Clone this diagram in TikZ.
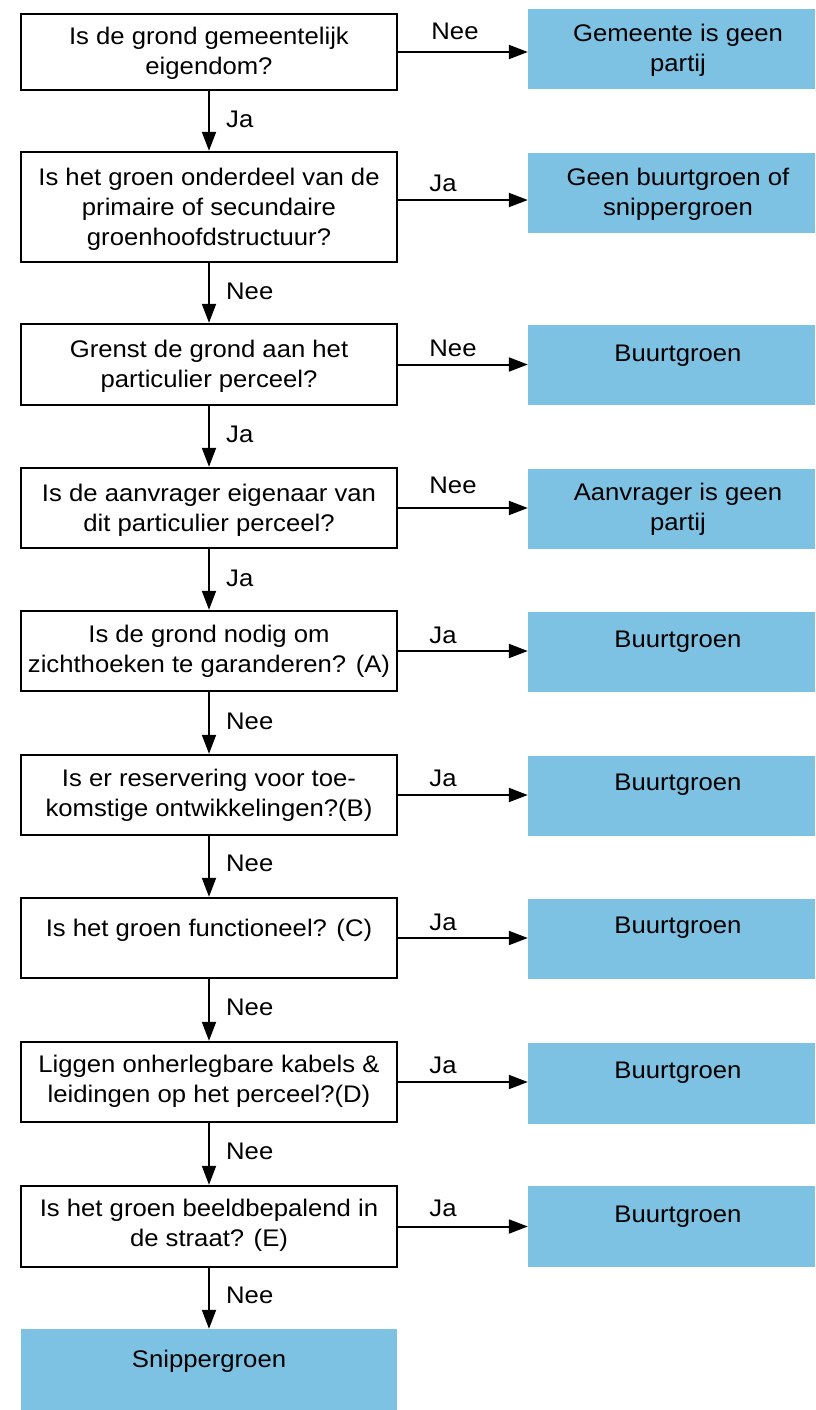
\documentclass[tikz,border=0pt]{standalone}
\usepackage{fontspec}
\setmainfont{Liberation Sans}[FakeStretch=1.07]
\usetikzlibrary{arrows.meta}
\definecolor{fillblue}{RGB}{125,193,227}
\tikzset{
  qbox/.style={draw=black, line width=2.4pt, minimum width=376pt, inner sep=0pt, fill=white},
  rbox/.style={fill=fillblue, draw=none, minimum width=287pt, inner sep=0pt},
  txt/.style={align=center, inner sep=0pt, font=\fontsize{24}{30}\selectfont},
  lbl/.style={inner sep=0pt, font=\fontsize{24}{30}\selectfont},
  arr/.style={line width=2pt, -{Triangle[length=19pt,width=14pt]}}
}
\begin{document}
\begin{tikzpicture}[x=1pt,y=-1pt]
\useasboundingbox (0,0) rectangle (815,1410);
% left boxes
\node[qbox, minimum height=76pt] (q1) at (209,52) {};
\node[qbox, minimum height=110pt] (q2) at (209,207) {};
\node[qbox, minimum height=81pt] (q3) at (209,364.5) {};
\node[qbox, minimum height=80pt] (q4) at (209,508) {};
\node[qbox, minimum height=80pt] (q5) at (209,651) {};
\node[qbox, minimum height=80pt] (q6) at (209,795) {};
\node[qbox, minimum height=80pt] (q7) at (209,938) {};
\node[qbox, minimum height=80pt] (q8) at (209,1082) {};
\node[qbox, minimum height=81pt] (q9) at (209,1226.5) {};
\node[fill=fillblue, minimum width=376pt, minimum height=81pt, inner sep=0pt] (end) at (209,1369.5) {};
% right boxes
\node[rbox, minimum height=80pt] (r1) at (671.5,49) {};
\node[rbox, minimum height=80pt] (r2) at (671.5,193) {};
\node[rbox, minimum height=80pt] (r3) at (671.5,365) {};
\node[rbox, minimum height=80pt] (r4) at (671.5,509) {};
\node[rbox, minimum height=80pt] (r5) at (671.5,652) {};
\node[rbox, minimum height=80pt] (r6) at (671.5,796) {};
\node[rbox, minimum height=80pt] (r7) at (671.5,939) {};
\node[rbox, minimum height=81pt] (r8) at (671.5,1083.5) {};
\node[rbox, minimum height=81pt] (r9) at (671.5,1226.5) {};
% question texts
\node[txt] (t1) at (209,53.5) {Is de grond gemeentelijk\\eigendom?};
\node[txt] (t2) at (209,209.5) {Is het groen onderdeel van de\\primaire of secundaire\\groenhoofdstructuur?};
\node[txt] (t3) at (209,366.5) {Grenst de grond aan het\\particulier perceel?};
\node[txt] (t4) at (209,510.5) {Is de aanvrager eigenaar van\\dit particulier perceel?};
\node[txt] (t5) at (209,651.5) {Is de grond nodig om\\zichthoeken te garanderen? (A)};
\node[txt] (t6) at (209,795.5) {Is er reservering voor toe-\\komstige ontwikkelingen?(B)};
\node[txt] (t7) at (209,930) {Is het groen functioneel? (C)};
\node[txt] (t8) at (209,1081.5) {Liggen onherlegbare kabels \&\\leidingen op het perceel?(D)};
\node[txt] (t9) at (209,1225.5) {Is het groen beeldbepalend in\\de straat? (E)};
\node[txt] (tend) at (209,1361) {Snippergroen};
% outcome texts
\node[txt] (u1) at (678,50.5) {Gemeente is geen\\partij};
\node[txt] (u2) at (678,194.5) {Geen buurtgroen of\\snippergroen};
\node[txt] (u3) at (678,356) {Buurtgroen};
\node[txt] (u4) at (678,509.5) {Aanvrager is geen\\partij};
\node[txt] (u5) at (678,642) {Buurtgroen};
\node[txt] (u6) at (678,785) {Buurtgroen};
\node[txt] (u7) at (678,928) {Buurtgroen};
\node[txt] (u8) at (678,1073) {Buurtgroen};
\node[txt] (u9) at (678,1217) {Buurtgroen};
% horizontal arrows
\draw[arr] (q1.east) -- (q1.east -| r1.west);
\draw[arr] ([yshift=7pt]q2.east) -- ([yshift=7pt]q2.east -| r2.west);
\draw[arr] (q3.east) -- (q3.east -| r3.west);
\draw[arr] (q4.east) -- (q4.east -| r4.west);
\draw[arr] (q5.east) -- (q5.east -| r5.west);
\draw[arr] (q6.east) -- (q6.east -| r6.west);
\draw[arr] (q7.east) -- (q7.east -| r7.west);
\draw[arr] (q8.east) -- (q8.east -| r8.west);
\draw[arr] (q9.east) -- (q9.east -| r9.west);
% vertical arrows
\draw[arr] (q1.south) -- (q2.north);
\draw[arr] (q2.south) -- (q3.north);
\draw[arr] (q3.south) -- (q4.north);
\draw[arr] (q4.south) -- (q5.north);
\draw[arr] (q5.south) -- (q6.north);
\draw[arr] (q6.south) -- (q7.north);
\draw[arr] (q7.south) -- (q8.north);
\draw[arr] (q8.south) -- (q9.north);
\draw[arr] (q9.south) -- (end.north);
% horizontal labels
\node[lbl] (h1) at (455,31) {Nee};
\node[lbl] (h2) at (443,183) {Ja};
\node[lbl] (h3) at (453,348) {Nee};
\node[lbl] (h4) at (453,485) {Nee};
\node[lbl] (h5) at (443,635) {Ja};
\node[lbl] (h6) at (443,778) {Ja};
\node[lbl] (h7) at (443,922) {Ja};
\node[lbl] (h8) at (443,1065) {Ja};
\node[lbl] (h9) at (443,1208) {Ja};
% vertical labels
\node[lbl, anchor=west] (v1) at (226,119) {Ja};
\node[lbl, anchor=west] (v2) at (226,291) {Nee};
\node[lbl, anchor=west] (v3) at (226,434) {Ja};
\node[lbl, anchor=west] (v4) at (226,578) {Ja};
\node[lbl, anchor=west] (v5) at (226,721) {Nee};
\node[lbl, anchor=west] (v6) at (226,863) {Nee};
\node[lbl, anchor=west] (v7) at (226,1007) {Nee};
\node[lbl, anchor=west] (v8) at (226,1151) {Nee};
\node[lbl, anchor=west] (v9) at (226,1295) {Nee};
\end{tikzpicture}
\end{document}
